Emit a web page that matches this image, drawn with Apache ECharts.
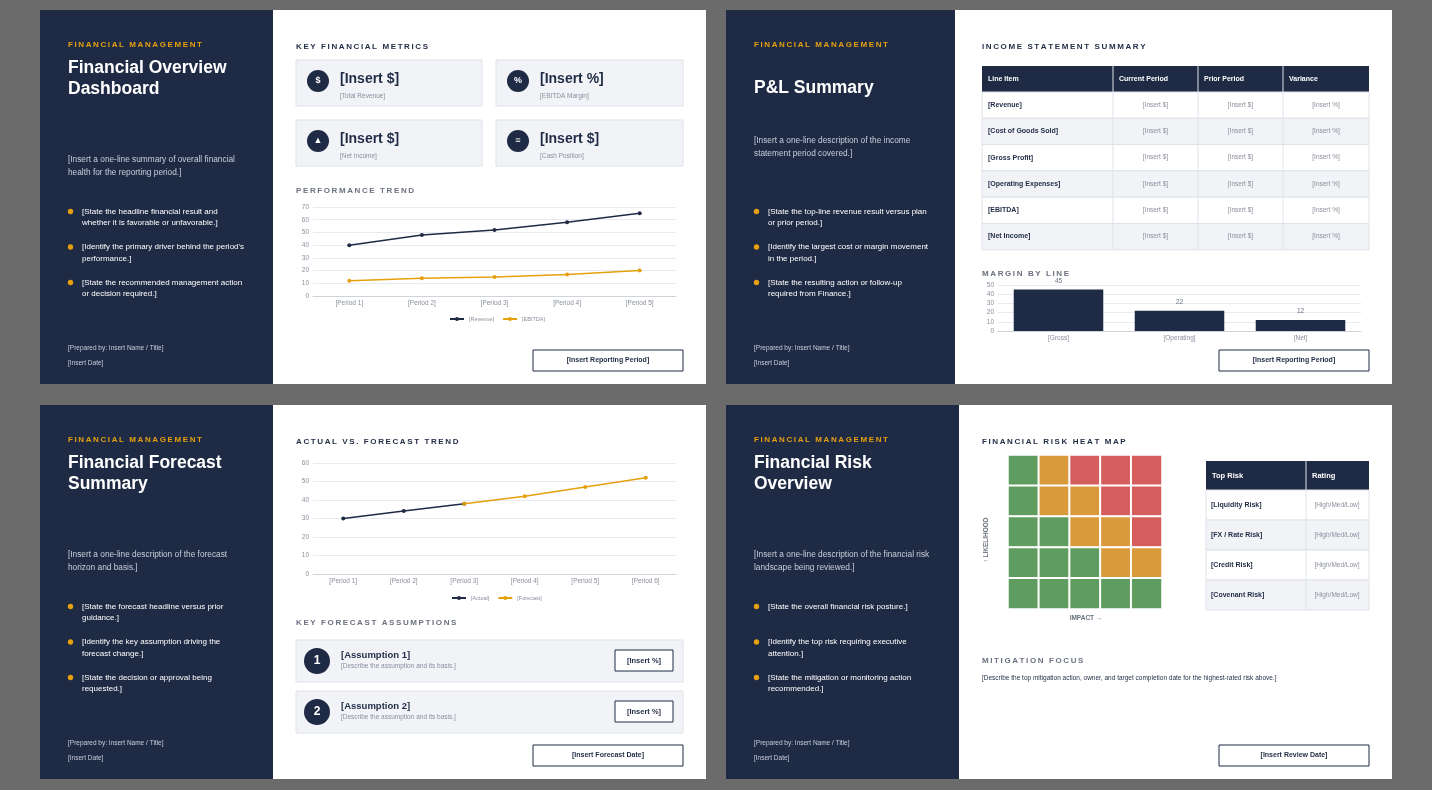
<!DOCTYPE html>
<html>
<head>
<meta charset="utf-8">
<script src="https://cdn.jsdelivr.net/npm/echarts@6/dist/echarts.min.js"></script>
<style>html,body{margin:0;padding:0;background:#6b6b6b}#main{width:1432px;height:790px}</style>
</head>
<body>
<div id="main"></div>
<script>
const chart = echarts.init(document.getElementById('main'));

const NAVY = '#1f2a44';
const ORANGE = '#e5a00d';
const CARD = '#f1f3f7';
const LINE = '#dfe2e8';
const GRAY = '#8a8f9c';
const FONT = 'Liberation Sans, Arial, sans-serif';

const performance = {
  periods: ['[Period 1]', '[Period 2]', '[Period 3]', '[Period 4]', '[Period 5]'],
  revenue: [40, 48, 52, 58, 65],
  ebitda: [12, 14, 15, 17, 20]
};
const margins = { names: ['[Gross]', '[Operating]', '[Net]'], values: [45, 22, 12] };
const forecast = {
  periods: ['[Period 1]', '[Period 2]', '[Period 3]', '[Period 4]', '[Period 5]', '[Period 6]'],
  actual: [30, 34, 38, null, null, null],
  forecast: [null, null, 38, 42, 47, 52]
};
// 1 = low (green), 2 = medium (amber), 3 = high (red); rows from top (high likelihood)
const riskGrid = [
  [1, 2, 3, 3, 3],
  [1, 2, 2, 3, 3],
  [1, 1, 2, 2, 3],
  [1, 1, 1, 2, 2],
  [1, 1, 1, 1, 1]
];
const riskColors = { 1: '#5f9c5f', 2: '#d89a3a', 3: '#d65d5d' };

const g = [];
function spaced(s) { return s.split('').join('\u2009'); }
function rect(x, y, w, h, fill, stroke) {
  g.push({ type: 'rect', shape: { x, y, width: w, height: h },
    style: { fill: fill || 'none', stroke: stroke || null, lineWidth: stroke ? 1 : 0 } });
}
function txt(x, y, text, o) {
  o = o || {};
  g.push({ type: 'text', x, y, rotation: o.rotation || 0,
    style: { text, fill: o.color || NAVY, font: (o.bold ? 'bold ' : '') + (o.size || 8) + 'px ' + FONT,
      lineHeight: o.lh || Math.round((o.size || 8) * 1.5), align: o.align || 'left', verticalAlign: o.va || 'top' } });
}
function circle(cx, cy, r, fill) {
  g.push({ type: 'circle', shape: { cx, cy, r }, style: { fill } });
}
function button(x, y, w, label) {
  rect(x, y, w, 21, '#fff', NAVY);
  txt(x + w / 2, y + 10.5, label, { bold: true, size: 7, align: 'center', va: 'middle' });
}
function leftPanel(x, w, y, title, titleY, desc, descY, bullets, bulletY) {
  rect(x, y, w, 374, NAVY);
  txt(x + 28, y + 29, spaced('FINANCIAL MANAGEMENT'), { bold: true, size: 8, color: ORANGE });
  txt(x + 28, titleY, title, { bold: true, size: 17.5, color: '#fff', lh: 21 });
  txt(x + 28, descY, desc, { size: 8.3, color: '#c9cedb', lh: 13 });
  bullets.forEach((b, i) => {
    const by = bulletY + i * 35.5;
    circle(x + 30.5, by + 3.5, 2.7, ORANGE);
    txt(x + 42, by - 2, b, { size: 8, color: '#fff', lh: 11.5 });
  });
  txt(x + 28, y + 333, '[Prepared by: Insert Name / Title]', { size: 6.5, color: '#c9cedb' });
  txt(x + 28, y + 348, '[Insert Date]', { size: 6.5, color: '#c9cedb' });
}
function section(x, y, label, color) {
  txt(x, y, spaced(label), { bold: true, size: 8, color: color || NAVY });
}

// slide backgrounds
[[40, 10], [726, 10], [40, 405], [726, 405]].forEach(p => rect(p[0], p[1], 666, 374, '#fff'));

// ---- slide 1
leftPanel(40, 233, 10, 'Financial Overview\nDashboard', 58,
  '[Insert a one-line summary of overall financial\nhealth for the reporting period.]', 153,
  ['[State the headline financial result and\nwhether it is favorable or unfavorable.]',
   '[Identify the primary driver behind the period\'s\nperformance.]',
   '[State the recommended management action\nor decision required.]'], 208);
section(296, 41, 'KEY FINANCIAL METRICS');
[
  [296, 60, 186, '$', '[Insert $]', '[Total Revenue]'],
  [496, 60, 187, '%', '[Insert %]', '[EBITDA Margin]'],
  [296, 120, 186, '▲', '[Insert $]', '[Net Income]'],
  [496, 120, 187, '≡', '[Insert $]', '[Cash Position]']
].forEach(c => {
  rect(c[0], c[1], c[2], 46, CARD, LINE);
  circle(c[0] + 22, c[1] + 21, 11, NAVY);
  txt(c[0] + 22, c[1] + 21, c[3], { bold: true, size: 9, color: '#fff', align: 'center', va: 'middle' });
  txt(c[0] + 44, c[1] + 9, c[4], { bold: true, size: 14 });
  txt(c[0] + 44, c[1] + 31, c[5], { size: 6.5, color: GRAY });
});
section(296, 185, 'PERFORMANCE TREND', '#6b7180');
button(533, 350, 150, '[Insert Reporting Period]');

// ---- slide 2
leftPanel(726, 229, 10, 'P&L Summary', 78,
  '[Insert a one-line description of the income\nstatement period covered.]', 134,
  ['[State the top-line revenue result versus plan\nor prior period.]',
   '[Identify the largest cost or margin movement\nin the period.]',
   '[State the resulting action or follow-up\nrequired from Finance.]'], 208);
section(982, 41, 'INCOME STATEMENT SUMMARY');
const cols = [982, 1113, 1198, 1283, 1369];
const rows = ['[Revenue]', '[Cost of Goods Sold]', '[Gross Profit]', '[Operating Expenses]', '[EBITDA]', '[Net Income]'];
rect(982, 66, 387, 26, NAVY);
['Line Item', 'Current Period', 'Prior Period', 'Variance'].forEach((h, i) => {
  txt(cols[i] + 6, 79, h, { bold: true, size: 7, color: '#fff', va: 'middle' });
});
rows.forEach((r, i) => {
  const y = 92 + i * 26.3;
  rect(982, y, 387, 26.3, i % 2 ? CARD : '#fff', LINE);
  txt(988, y + 13, r, { bold: true, size: 7, va: 'middle' });
  ['[Insert $]', '[Insert $]', '[Insert %]'].forEach((v, j) => {
    txt((cols[j + 1] + cols[j + 2]) / 2, y + 13, v, { size: 6.5, color: GRAY, align: 'center', va: 'middle' });
  });
});
for (let i = 1; i < 4; i++) {
  g.push({ type: 'line', shape: { x1: cols[i], y1: 66, x2: cols[i], y2: 250 }, style: { stroke: LINE, lineWidth: 1 } });
}
section(982, 268, 'MARGIN BY LINE', '#6b7180');
button(1219, 350, 150, '[Insert Reporting Period]');

// ---- slide 3
leftPanel(40, 233, 405, 'Financial Forecast\nSummary', 453,
  '[Insert a one-line description of the forecast\nhorizon and basis.]', 548,
  ['[State the forecast headline versus prior\nguidance.]',
   '[Identify the key assumption driving the\nforecast change.]',
   '[State the decision or approval being\nrequested.]'], 603);
section(296, 436, 'ACTUAL VS. FORECAST TREND');
section(296, 617, 'KEY FORECAST ASSUMPTIONS', '#6b7180');
[[640, '1', '[Assumption 1]'], [691, '2', '[Assumption 2]']].forEach(a => {
  rect(296, a[0], 387, 42, CARD, LINE);
  circle(317, a[0] + 21, 13, NAVY);
  txt(317, a[0] + 21, a[1], { bold: true, size: 12, color: '#fff', align: 'center', va: 'middle' });
  txt(341, a[0] + 8, a[2], { bold: true, size: 9.5 });
  txt(341, a[0] + 21, '[Describe the assumption and its basis.]', { size: 6.5, color: GRAY });
  rect(615, a[0] + 10, 58, 21, '#fff', NAVY);
  txt(644, a[0] + 20.5, '[Insert %]', { bold: true, size: 7.5, align: 'center', va: 'middle' });
});
button(533, 745, 150, '[Insert Forecast Date]');

// ---- slide 4
leftPanel(726, 233, 405, 'Financial Risk\nOverview', 453,
  '[Insert a one-line description of the financial risk\nlandscape being reviewed.]', 548,
  ['[State the overall financial risk posture.]',
   '[Identify the top risk requiring executive\nattention.]',
   '[State the mitigation or monitoring action\nrecommended.]'], 603);
section(982, 436, 'FINANCIAL RISK HEAT MAP');
txt(986, 540, '↑ LIKELIHOOD', { bold: true, size: 6.5, color: '#6b7180', rotation: Math.PI / 2, align: 'center', va: 'middle' });
txt(1086, 618, 'IMPACT →', { bold: true, size: 6.5, color: '#6b7180', align: 'center', va: 'middle' });
rect(1206, 461, 163, 29, NAVY);
txt(1212, 475.5, 'Top Risk', { bold: true, size: 7.5, color: '#fff', va: 'middle' });
txt(1312, 475.5, 'Rating', { bold: true, size: 7.5, color: '#fff', va: 'middle' });
['[Liquidity Risk]', '[FX / Rate Risk]', '[Credit Risk]', '[Covenant Risk]'].forEach((r, i) => {
  const y = 490 + i * 30;
  rect(1206, y, 163, 30, i % 2 ? CARD : '#fff', LINE);
  txt(1211, y + 15, r, { bold: true, size: 7, va: 'middle' });
  txt(1337, y + 15, '[High/Med/Low]', { size: 6.5, color: GRAY, align: 'center', va: 'middle' });
});
g.push({ type: 'line', shape: { x1: 1306, y1: 461, x2: 1306, y2: 610 }, style: { stroke: LINE, lineWidth: 1 } });
section(982, 655, 'MITIGATION FOCUS', '#6b7180');
txt(982, 673, '[Describe the top mitigation action, owner, and target completion date for the highest-rated risk above.]', { size: 6.5, color: NAVY });
button(1219, 745, 150, '[Insert Review Date]');

const heatData = [];
riskGrid.forEach((row, r) => row.forEach((v, c) => {
  heatData.push({ value: [c, 4 - r, v], itemStyle: { color: riskColors[v] } });
}));

const axisLabel = { color: '#8a8f9c', fontSize: 6.5, fontFamily: FONT, margin: 4 };
const splitLine = { lineStyle: { color: '#e8eaef' } };
const axisLine = { lineStyle: { color: '#cfd3db' } };
const legendText = { color: '#8a8f9c', fontSize: 5.5, fontFamily: FONT };

chart.setOption({
  backgroundColor: '#6b6b6b',
  animation: false,
  graphic: { elements: g },
  legend: [
    { data: ['[Revenue]', '[EBITDA]'], left: 444, top: 311, itemWidth: 14, itemHeight: 5, itemGap: 8, textStyle: legendText },
    { data: ['[Actual]', '[Forecast]'], left: 446, top: 590, itemWidth: 14, itemHeight: 5, itemGap: 8, textStyle: legendText }
  ],
  grid: [
    { left: 313, top: 207, width: 363, height: 89 },
    { left: 998, top: 285, width: 363, height: 46 },
    { left: 313, top: 463, width: 363, height: 111 },
    { left: 1008, top: 455, width: 154, height: 154 }
  ],
  xAxis: [
    { gridIndex: 0, type: 'category', data: performance.periods, axisLabel, axisLine, axisTick: { lineStyle: { color: '#cfd3db' } } },
    { gridIndex: 1, type: 'category', data: margins.names, axisLabel, axisLine, axisTick: { lineStyle: { color: '#cfd3db' } } },
    { gridIndex: 2, type: 'category', data: forecast.periods, axisLabel, axisLine, axisTick: { lineStyle: { color: '#cfd3db' } } },
    { gridIndex: 3, type: 'category', data: [0, 1, 2, 3, 4], show: false }
  ],
  yAxis: [
    { gridIndex: 0, type: 'value', min: 0, max: 70, interval: 10, axisLabel, splitLine },
    { gridIndex: 1, type: 'value', min: 0, max: 50, interval: 10, axisLabel, splitLine },
    { gridIndex: 2, type: 'value', min: 0, max: 60, interval: 10, axisLabel, splitLine },
    { gridIndex: 3, type: 'category', data: [0, 1, 2, 3, 4], show: false }
  ],
  series: [
    { name: '[Revenue]', type: 'line', xAxisIndex: 0, yAxisIndex: 0, data: performance.revenue,
      color: NAVY, symbol: 'circle', symbolSize: 4, lineStyle: { width: 1.5 } },
    { name: '[EBITDA]', type: 'line', xAxisIndex: 0, yAxisIndex: 0, data: performance.ebitda,
      color: ORANGE, symbol: 'circle', symbolSize: 4, lineStyle: { width: 1.5 } },
    { name: 'Margin', type: 'bar', xAxisIndex: 1, yAxisIndex: 1, data: margins.values,
      color: NAVY, barWidth: '74%', label: { show: true, position: 'top', color: '#6b7180', fontSize: 6.5, fontFamily: FONT } },
    { name: '[Actual]', type: 'line', xAxisIndex: 2, yAxisIndex: 2, data: forecast.actual,
      color: NAVY, symbol: 'circle', symbolSize: 4, lineStyle: { width: 1.5 } },
    { name: '[Forecast]', type: 'line', xAxisIndex: 2, yAxisIndex: 2, data: forecast.forecast,
      color: ORANGE, symbol: 'circle', symbolSize: 4, lineStyle: { width: 1.5 } },
    { name: 'Risk', type: 'heatmap', xAxisIndex: 3, yAxisIndex: 3, data: heatData,
      itemStyle: { borderColor: '#fff', borderWidth: 2 } }
  ]
});
</script>
</body>
</html>
